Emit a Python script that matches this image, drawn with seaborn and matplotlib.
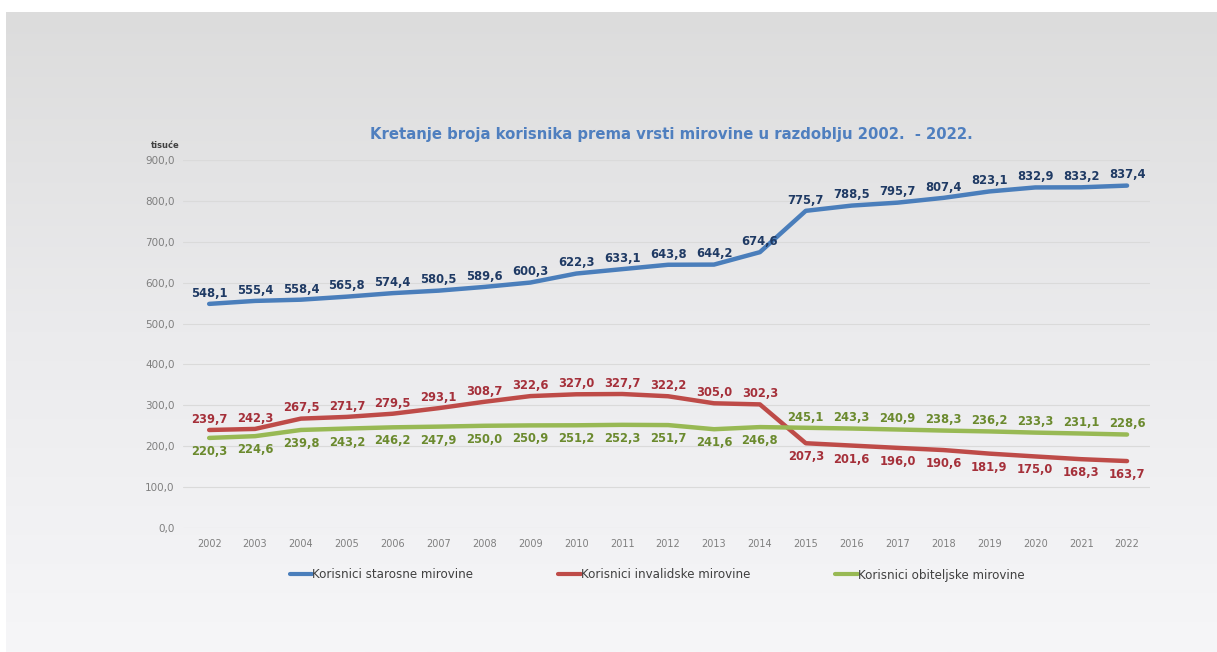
import numpy as np
import pandas as pd
import matplotlib
matplotlib.use("Agg")
import matplotlib.pyplot as plt
import seaborn as sns
from matplotlib.colors import LinearSegmentedColormap
from matplotlib.lines import Line2D

years = [str(y) for y in range(2002, 2023)]
starosne = [548.1, 555.4, 558.4, 565.8, 574.4, 580.5, 589.6, 600.3, 622.3, 633.1, 643.8,
            644.2, 674.6, 775.7, 788.5, 795.7, 807.4, 823.1, 832.9, 833.2, 837.4]
invalidske = [239.7, 242.3, 267.5, 271.7, 279.5, 293.1, 308.7, 322.6, 327.0, 327.7, 322.2,
              305.0, 302.3, 207.3, 201.6, 196.0, 190.6, 181.9, 175.0, 168.3, 163.7]
obiteljske = [220.3, 224.6, 239.8, 243.2, 246.2, 247.9, 250.0, 250.9, 251.2, 252.3, 251.7,
              241.6, 246.8, 245.1, 243.3, 240.9, 238.3, 236.2, 233.3, 231.1, 228.6]
series_names = ["Korisnici starosne mirovine", "Korisnici invalidske mirovine",
                "Korisnici obiteljske mirovine"]
title = "Kretanje broja korisnika prema vrsti mirovine u razdoblju 2002.  - 2022."

sns.set_theme(style="white")
plt.rcParams['font.family'] = ['DejaVu Sans']

fig = plt.figure(figsize=(12.17, 6.52), dpi=100)
fig.patch.set_facecolor("white")

# background gradient panel
bg = fig.add_axes([6/1217, 0, 1 - 6/1217, 1 - 12/652], zorder=-10)
grad = np.linspace(0, 1, 256).reshape(-1, 1)
cmap = LinearSegmentedColormap.from_list("g", ["#dcdcdc", "#ebebed", "#f6f6f8"])
bg.imshow(grad, aspect="auto", cmap=cmap, extent=[0, 1, 0, 1], origin="upper")
bg.set_axis_off()

ax = fig.add_axes([183/1217, 1 - 528/652, (1150 - 183)/1217, (528 - 160)/652])
ax.set_facecolor("none")

df = pd.DataFrame({
    "year": years * 3,
    "value": starosne + invalidske + obiteljske,
    "series": [series_names[0]] * 21 + [series_names[1]] * 21 + [series_names[2]] * 21,
})
line_colors = ["#4a7ebb", "#be4b48", "#98b954"]
label_colors = ["#1f3a64", "#a5303a", "#6b8a2e"]
sns.lineplot(data=df, x="year", y="value", hue="series", palette=line_colors,
             linewidth=3.2, ax=ax, legend=False, sort=False)

ax.set_ylim(0, 900)
ax.set_xlim(-0.57, 20.5)
ax.set_yticks(np.arange(0, 901, 100))
ax.set_yticklabels([f"{v:.1f}".replace(".", ",") for v in np.arange(0, 901, 100)],
                   fontsize=7.5, color="#7f7f7f")
ax.tick_params(axis="x", labelsize=7, colors="#7f7f7f", pad=8, length=0)
ax.tick_params(axis="y", pad=6, length=0)
ax.grid(axis="y", color="#dadada", linewidth=0.8)
for s in ax.spines.values():
    s.set_visible(False)
ax.set_xlabel("")
ax.set_ylabel("")

def fmt(v):
    return f"{v:.1f}".replace(".", ",")

kw = dict(textcoords="offset points", ha="center", fontsize=8.3, fontweight="bold")
for i in range(21):
    ax.annotate(fmt(starosne[i]), (i, starosne[i]), xytext=(0, 3), va="bottom",
                color=label_colors[0], **kw)
    if i <= 12:
        ax.annotate(fmt(invalidske[i]), (i, invalidske[i]), xytext=(0, 3), va="bottom",
                    color=label_colors[1], **kw)
        ax.annotate(fmt(obiteljske[i]), (i, obiteljske[i]), xytext=(0, -5), va="top",
                    color=label_colors[2], **kw)
    else:
        ax.annotate(fmt(invalidske[i]), (i, invalidske[i]), xytext=(0, -5), va="top",
                    color=label_colors[1], **kw)
        ax.annotate(fmt(obiteljske[i]), (i, obiteljske[i]), xytext=(0, 3), va="bottom",
                    color=label_colors[2], **kw)

fig.text(671/1217, 1 - 134/652, title, ha="center", va="center", fontsize=10.7,
         fontweight="bold", color="#4f7fbf")
fig.text(165/1217, 1 - 146/652, "tisuće", ha="center", va="center", fontsize=6,
         fontweight="bold", color="#404040")

handles = [Line2D([0], [0], color=c, linewidth=3) for c in line_colors]
leg = fig.legend(handles, series_names, loc="center", bbox_to_anchor=(657/1217, 1 - 575/652),
                 ncol=3, frameon=False, fontsize=8.6, handlelength=1.9, handletextpad=0.0,
                 columnspacing=7.1)
for t in leg.get_texts():
    t.set_color("#404040")

fig.savefig("out.png", dpi=100)
